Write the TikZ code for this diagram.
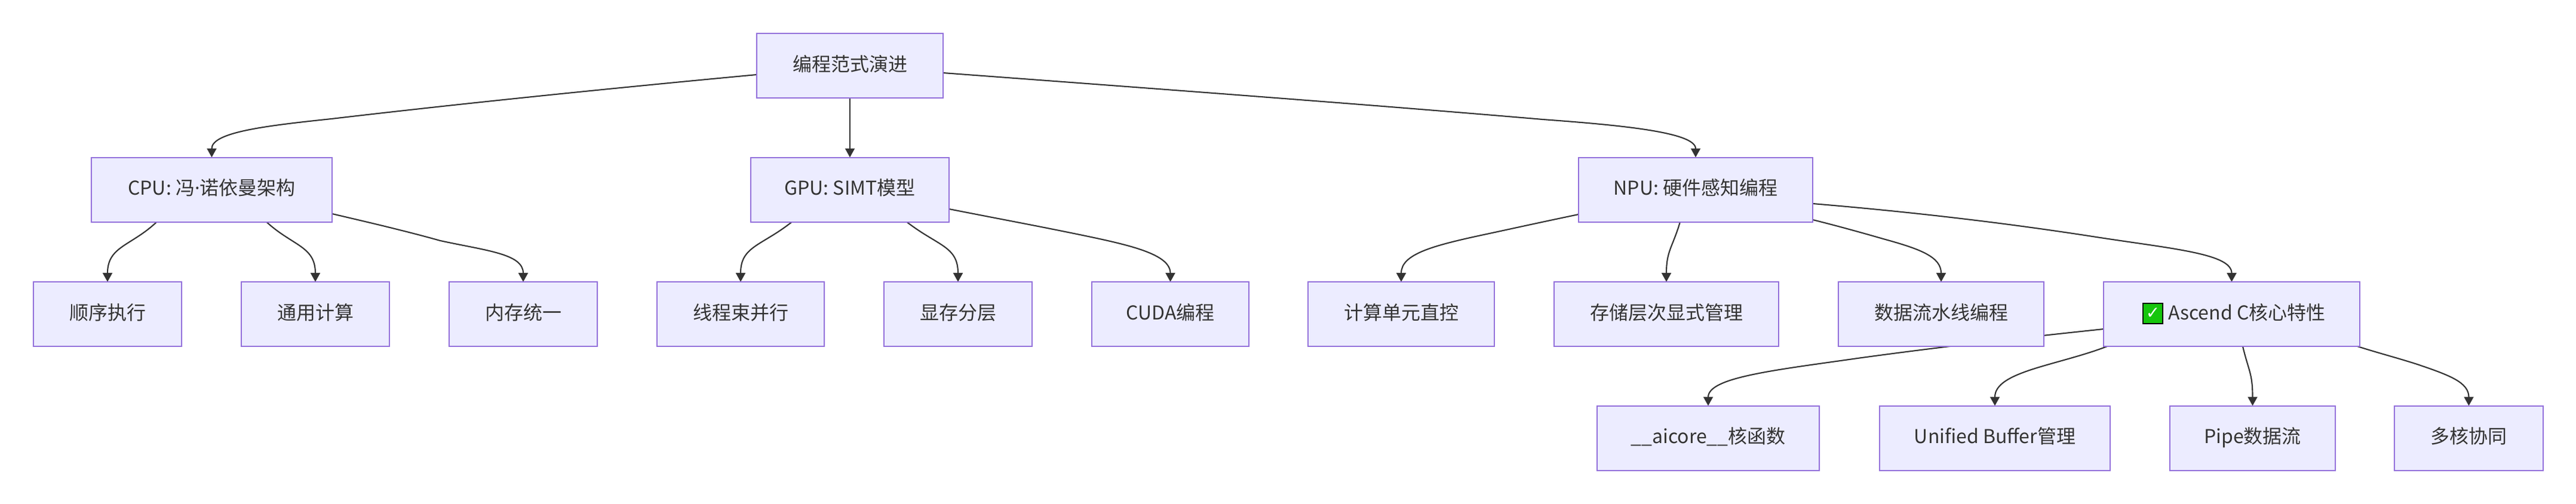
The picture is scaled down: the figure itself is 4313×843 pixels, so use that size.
\documentclass[tikz,border=0pt]{standalone}
\usepackage{fontspec}
\setmainfont{Noto Sans CJK SC}
\newfontfamily\latinfont{Noto Sans}
\newfontfamily\symbolfont{DejaVu Sans}
\usetikzlibrary{arrows.meta,calc,backgrounds}
\definecolor{boxfill}{HTML}{ECECFF}
\definecolor{boxline}{HTML}{9370DB}
\definecolor{inkdark}{HTML}{333333}
\definecolor{checkgreen}{HTML}{16C60C}
\tikzset{
  nodebox/.style={draw=boxline,fill=boxfill,line width=1.5pt,inner sep=0pt,outer sep=0pt,
    minimum height=81pt,text=inkdark,font=\fontsize{24pt}{28pt}\selectfont,
    text height=21pt,text depth=7pt,align=center},
  link/.style={draw=inkdark,line width=1.6pt,-{Triangle[length=11.25pt,width=12pt,fill=inkdark]}}
}
\newcommand{\mybox}[5]{\node[nodebox,minimum width={(#3-#2)*0.75pt}] (#1) at ({(#2+#3)/2},#4) {#5};}
\begin{document}
\begin{tikzpicture}[x=0.75pt,y=-0.75pt]
\useasboundingbox (0,0) rectangle (4313,843);
\mybox{root}{1267}{1579}{110}{编程范式演进}
\mybox{cpu}{153}{556}{317.5}{CPU: 冯{\latinfont ·}诺依曼架构}
\mybox{gpu}{1257}{1589}{317.5}{GPU: SIMT模型}
\mybox{npu}{2643}{3035}{317.5}{NPU: 硬件感知编程}
\mybox{seq}{56}{304}{526}{顺序执行}
\mybox{gen}{404}{652}{526}{通用计算}
\mybox{mem}{752}{1000}{526}{内存统一}
\mybox{thr}{1100}{1380}{526}{线程束并行}
\mybox{vram}{1480}{1728}{526}{显存分层}
\mybox{cuda}{1828}{2091}{526}{CUDA编程}
\mybox{unit}{2190}{2502}{526}{计算单元直控}
\mybox{stor}{2602}{2978}{526}{存储层次显式管理}
\mybox{flow}{3078}{3422}{526}{数据流水线编程}
\mybox{asc}{3522}{3951}{526}{\hspace{38pt}Ascend C核心特性}
\mybox{aic}{2674}{3046}{733.5}{\_\_aicore\_\_核函数}
\mybox{ub}{3147}{3533}{733.5}{Unified Buffer管理}
\mybox{pipe}{3633}{3910}{733.5}{Pipe数据流}
\mybox{multi}{4009}{4258}{733.5}{多核协同}
\node[draw=black,fill=checkgreen,line width=1.5pt,minimum width=25pt,minimum height=26pt,inner sep=0pt,text=white,font=\fontsize{21pt}{24pt}\symbolfont\bfseries] (chk) at (3604.5,525) {✓};
\begin{pgfonlayer}{background}
\fill[white] (0,0) rectangle (4313,843);
\draw[link] ($(root.west)+(0,15)$) .. controls (1000,150) and (750,176) .. (555,199) .. controls (440,211) and (354.5,222) .. (cpu.north);
\draw[link] (root.south) -- (gpu.north);
\draw[link] ($(root.east)+(0,12)$) .. controls (1900,146) and (2280,174) .. (2583,200) .. controls (2720,210) and (2839,222) .. (npu.north);
\draw[link] ($(cpu.south)+(-92,0)$) .. controls (220,412) and (180,412) .. (seq.north);
\draw[link] ($(cpu.south)+(91.5,0)$) .. controls (490,412) and (528,412) .. (gen.north);
\draw[link] ($(cpu.east)+(0,40.5)$) .. controls (620,373) and (680,387) .. (737,403) .. controls (815,420) and (876,425) .. (mem.north);
\draw[link] ($(gpu.south)+(-97,0)$) .. controls (1275,412) and (1240,412) .. (thr.north);
\draw[link] ($(gpu.south)+(95,0)$) .. controls (1570,412) and (1604,412) .. (vram.north);
\draw[link] ($(gpu.east)+(0,32.5)$) .. controls (1660,364) and (1735,378) .. (1803,392) .. controls (1890,410) and (1959.5,425) .. (cuda.north);
\draw[link] ($(npu.west)+(0,41.5)$) .. controls (2590,370) and (2540,381) .. (2489,392) .. controls (2400,411) and (2346,425) .. (unit.north);
\draw[link] ($(npu.south)+(-26,0)$) .. controls (2800,415) and (2790,420) .. (stor.north);
\draw[link] ($(npu.east)+(0,50.5)$) .. controls (3075,378) and (3115,389) .. (3153,400) .. controls (3215,417) and (3250,430) .. (flow.north);
\draw[link] ($(npu.east)+(0,23.5)$) .. controls (3190,354) and (3350,372) .. (3510,397) .. controls (3640,417) and (3736.5,425) .. (asc.north);
\draw[link] ($(asc.west)+(0,25)$) .. controls (3380,566) and (3240,582) .. (3110,600) .. controls (2970,620) and (2860,632) .. (aic.north);
\draw[link] ($(asc.south)+(-208.5,0)$) .. controls (3445,612) and (3340,622) .. (ub.north);
\draw[link] ($(asc.south)+(18.5,0)$) .. controls (3765,622) and (3771.5,625) .. (pipe.north);
\draw[link] ($(asc.south)+(210.5,0)$) .. controls (3985,592) and (4016,600) .. (4047,610) .. controls (4100,628) and (4133.5,640) .. (multi.north);
\end{pgfonlayer}
\end{tikzpicture}
\end{document}
